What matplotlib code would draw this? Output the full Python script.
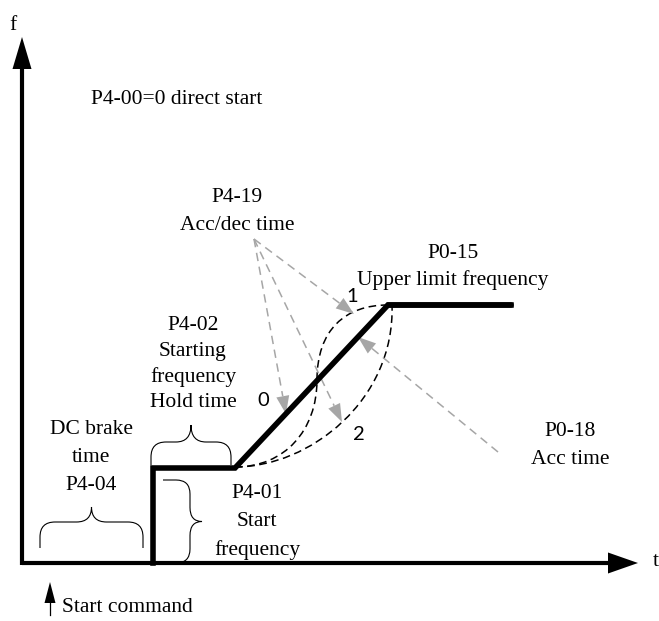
import numpy as np
import matplotlib
matplotlib.use('Agg')
import matplotlib.pyplot as plt
from matplotlib.path import Path
from matplotlib.patches import PathPatch

plt.rcParams['font.family'] = ['Liberation Serif', 'DejaVu Serif']

# 图中坐标 (像素单位, y 向下)
axis_origin = (22, 563)
t_axis_end = 638
f_axis_end = 37

# 频率曲线: 直接启动 -> 启动频率保持 -> 加速 -> 上限频率
curve_t = [153, 153, 235, 388, 511]
curve_f = [563, 468, 468, 305, 305]

# 虚线曲线 1 (S 曲线) 与 2 的控制点
s1_t = [235, 285, 317, 317, 317, 345, 388]
s1_f = [467, 467, 430, 380, 330, 305, 305]
s2_t = [235, 310, 395, 392]
s2_f = [467, 467, 400, 305]

# 灰色虚线箭头
p419_from = (254, 239)
p419_to = [(354, 314), (286, 414), (342, 422)]
p018_from = (498, 452)
p018_to = (358, 337)

fig = plt.figure(figsize=(6.59, 6.21), dpi=100)
ax = fig.add_axes([0, 0, 1, 1])
ax.set_xlim(0, 659)
ax.set_ylim(621, 0)
ax.axis('off')

gray = '#a6a6a6'


def arrow_head(x0, y0, x1, y1, L, W, color):
    d = np.hypot(x1 - x0, y1 - y0)
    ux, uy = (x1 - x0) / d, (y1 - y0) / d
    bx, by = x1 - L * ux, y1 - L * uy
    ax.fill([x1, bx - W * uy, bx + W * uy], [y1, by + W * ux, by - W * ux],
            color=color, lw=0, zorder=4)
    return bx, by


def gray_arrow(p0, p1):
    bx, by = arrow_head(p0[0], p0[1], p1[0], p1[1], 18, 6.5, gray)
    ax.plot([p0[0], bx], [p0[1], by], color=gray, lw=1.1, dashes=(5.5, 3.7), zorder=3)


def brace(a0, a1, tip, bar, peak, r, vertical=False):
    am = (a0 + a1) / 2
    s = np.sign(peak - bar)
    pts = [(a0, tip), (a0, bar - s * r), (a0, bar), (a0 + r, bar), (am - r, bar),
           (am, bar), (am, peak), (am, bar), (am + r, bar), (a1 - r, bar),
           (a1, bar), (a1, bar - s * r), (a1, tip)]
    codes = [Path.MOVETO, Path.LINETO, Path.CURVE3, Path.CURVE3, Path.LINETO,
             Path.CURVE3, Path.CURVE3, Path.CURVE3, Path.CURVE3, Path.LINETO,
             Path.CURVE3, Path.CURVE3, Path.LINETO]
    if vertical:
        pts = [(b, a) for a, b in pts]
    ax.add_patch(PathPatch(Path(pts, codes), fill=False, lw=0.8, color='black'))


# 坐标轴
ox, oy = axis_origin
ax.plot([ox, t_axis_end - 29], [oy, oy], color='black', lw=3, solid_capstyle='butt')
arrow_head(ox, oy, t_axis_end, oy, 30, 10.5, 'black')
ax.plot([ox, ox], [oy + 1.5, f_axis_end + 30], color='black', lw=3, solid_capstyle='butt')
arrow_head(ox, oy, ox, f_axis_end, 32, 9.5, 'black')
ax.text(656, 562, 't', fontsize=15.5, ha='center', va='center')
ax.text(13, 26, 'f', fontsize=15.5, ha='center', va='center')

# 频率曲线
ax.plot(curve_t, curve_f, color='black', lw=4, solid_joinstyle='miter', zorder=5)
ax.plot(curve_t[-2:], curve_f[-2:], color='black', lw=4, solid_capstyle='round', zorder=5)

# 虚线曲线
c4 = [Path.MOVETO] + [Path.CURVE4] * 6
ax.add_patch(PathPatch(Path(list(zip(s1_t, s1_f)), c4), fill=False, lw=1.1,
                       ls=(0, (5, 3)), color='black'))
ax.add_patch(PathPatch(Path(list(zip(s2_t, s2_f)), c4[:4]), fill=False, lw=1.1,
                       ls=(0, (5, 3)), color='black'))

for tip in p419_to:
    gray_arrow(p419_from, tip)
gray_arrow(p018_from, p018_to)

# 花括号
brace(40, 143, 548, 522, 507, 15)
brace(151, 231, 465, 442, 425, 15)
brace(480, 563, 163, 190, 202, 14, vertical=True)

# 文字
fs = 15.5
ax.text(91, 100, 'P4-00=0 direct start', fontsize=fs, ha='left', va='center')


def block(x, y, lines, step):
    for i, s in enumerate(lines):
        ax.text(x, y + i * step, s, fontsize=fs, ha='center', va='center')


block(237, 198, ['P4-19', 'Acc/dec time'], 28)
block(453, 254, ['P0-15', 'Upper limit frequency'], 26)
block(193, 326, ['P4-02', 'Starting', 'frequency', 'Hold time'], 25.5)
block(91, 430, ['DC brake', 'time', 'P4-04'], 27.5)
block(257, 493, ['P4-01', 'Start', 'frequency'], 28.5)
block(570, 432, ['P0-18', 'Acc time'], 28)

for s, (x, y) in zip(['1', '0', '2'], [(352, 296), (263, 401), (359, 435)]):
    ax.text(x, y, s, fontsize=14.5, family=['Lato', 'DejaVu Sans'], ha='center', va='center')

# 启动命令
ax.plot([50, 50], [615, 600], color='black', lw=0.9)
arrow_head(50, 615, 50, 582, 21, 5.5, 'black')
ax.text(62, 608, 'Start command', fontsize=fs, ha='left', va='center')

plt.savefig('out.png', dpi=100)
